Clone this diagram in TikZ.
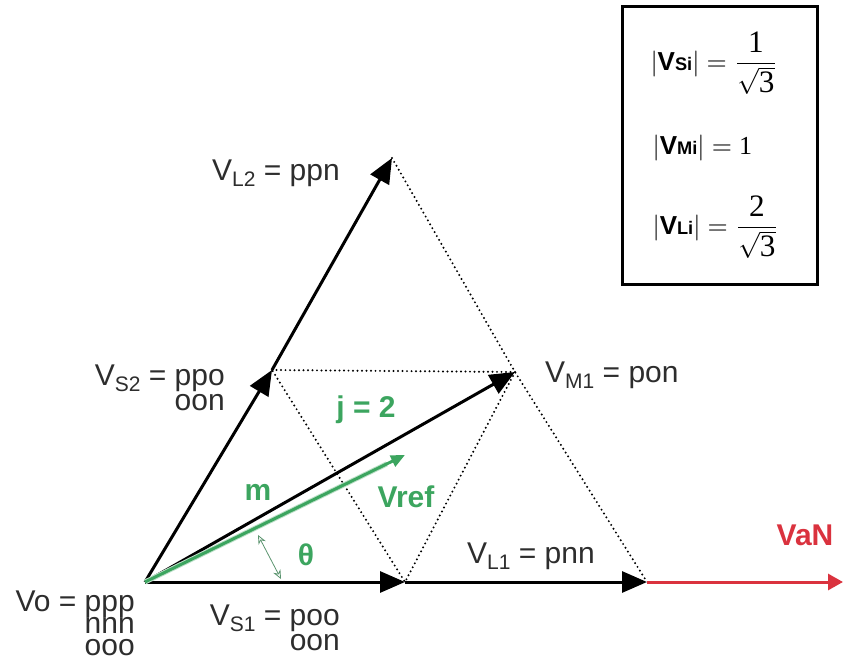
\documentclass[tikz,border=0pt]{standalone}
\usepackage{amsmath}
\usepackage{fontspec}
\setmainfont{Liberation Sans}
\newfontfamily\serifff{Liberation Serif}
\usetikzlibrary{arrows.meta,calc}
\definecolor{vgreen}{RGB}{60,165,95}
\definecolor{vred}{RGB}{218,50,62}
\definecolor{vtext}{RGB}{45,45,45}
\newcommand\vsub[1]{\raisebox{-0.2em}{\fontsize{21}{21}\selectfont #1}}
\newcommand\lsub[1]{{\bfseries\fontsize{7}{7}\selectfont #1}}
\begin{document}
\begin{tikzpicture}[x=1pt,y=-1pt,
  vec/.style={line width=3pt, -{Triangle[length=25pt,width=21pt]}},
  dotl/.style={line width=2.2pt, line cap=round, dash pattern=on 0pt off 4.5pt},
  lbl/.style={font=\fontsize{30}{30}\selectfont, inner sep=0pt, text=vtext},
  glbl/.style={font=\bfseries\fontsize{30}{30}\selectfont, inner sep=0pt, text=vgreen},
  eqn/.style={scale=2.6, inner sep=0pt, anchor=west},
]
\useasboundingbox (0,0) rectangle (843,660);
% points
\coordinate (O) at (145,582);
\coordinate (S1) at (405,582);
\coordinate (L1) at (647,582);
\coordinate (S2) at (272,370);
\coordinate (L2) at (392,158);
\coordinate (M1) at (515,372);
\coordinate (R) at (405,455);
\coordinate (E) at (843,582);
\coordinate (th1) at (258,535);
\coordinate (th2) at (281,579);
\coordinate (boxa) at (622,7);
\coordinate (boxb) at (817,285);
% dotted construction lines
\draw[dotl] (L2) -- (M1) -- (L1);
\draw[dotl] (S2) -- (M1) -- (S1) -- cycle;
% vectors
\draw[vec] (O) -- (S1);
\draw[vec] (S1) -- (L1);
\draw[vec] (O) -- (S2);
\draw[vec] (S2) -- (L2);
\draw[vec] (O) -- (M1);
\draw[line width=3pt, vred, -{Triangle[length=15pt,width=16pt]}] (L1) -- (E);
\draw[line width=5pt, vgreen!35] (O) -- ($(O)!0.93!(R)$);
\draw[line width=3pt, vgreen, -{Triangle[length=14pt,width=12pt]}] (O) -- (R);
\draw[line width=0.8pt, vgreen!55!gray, {Stealth[open,length=9pt,width=8pt]}-{Stealth[open,length=9pt,width=8pt]}] (th1) -- (th2);
% labels
\node[lbl, anchor=base east] (vo) at (135,611) {Vo = ppp};
\node[lbl, anchor=base east] (vob) at (135,633) {nnn};
\node[lbl, anchor=base east] (voc) at (135,655) {ooo};
\node[lbl, anchor=base east] (vs1) at (340,625) {V\vsub{S1} = poo};
\node[lbl, anchor=base east] (vs1b) at (340,650) {oon};
\node[lbl, anchor=base west] (vl1) at (467,563) {V\vsub{L1} = pnn};
\node[lbl, anchor=base west] (vl2) at (212,181) {V\vsub{L2} = ppn};
\node[lbl, anchor=base east] (vs2) at (225,385) {V\vsub{S2} = ppo};
\node[lbl, anchor=base east] (vs2b) at (225,410) {oon};
\node[lbl, anchor=base west] (vm1) at (545,382) {V\vsub{M1} = pon};
\node[glbl, anchor=base] (j) at (366,417) {j = 2};
\node[glbl, anchor=base] (m) at (258,500) {m};
\node[glbl, anchor=base] (vref) at (406,507) {Vref};
\node[glbl, anchor=base] (th) at (306,565) {θ};
\node[glbl, anchor=base, text=vred] (van) at (805,545) {VaN};
% legend
\draw[line width=3pt] (boxa) rectangle (boxb);
\node[eqn] (eq1) at (650,63) {$\lvert\textbf{V}\text{\lsub{Si}}\rvert=\dfrac{\text{\serifff\large 1}}{\sqrt{\text{\serifff\large 3}}}$};
\node[eqn] (eq2) at (652,148) {$\lvert\textbf{V}\text{\lsub{Mi}}\rvert=\text{\serifff 1}$};
\node[eqn] (eq3) at (652,227) {$\lvert\textbf{V}\text{\lsub{Li}}\rvert=\dfrac{\text{\serifff\large 2}}{\sqrt{\text{\serifff\large 3}}}$};
\end{tikzpicture}
\end{document}
